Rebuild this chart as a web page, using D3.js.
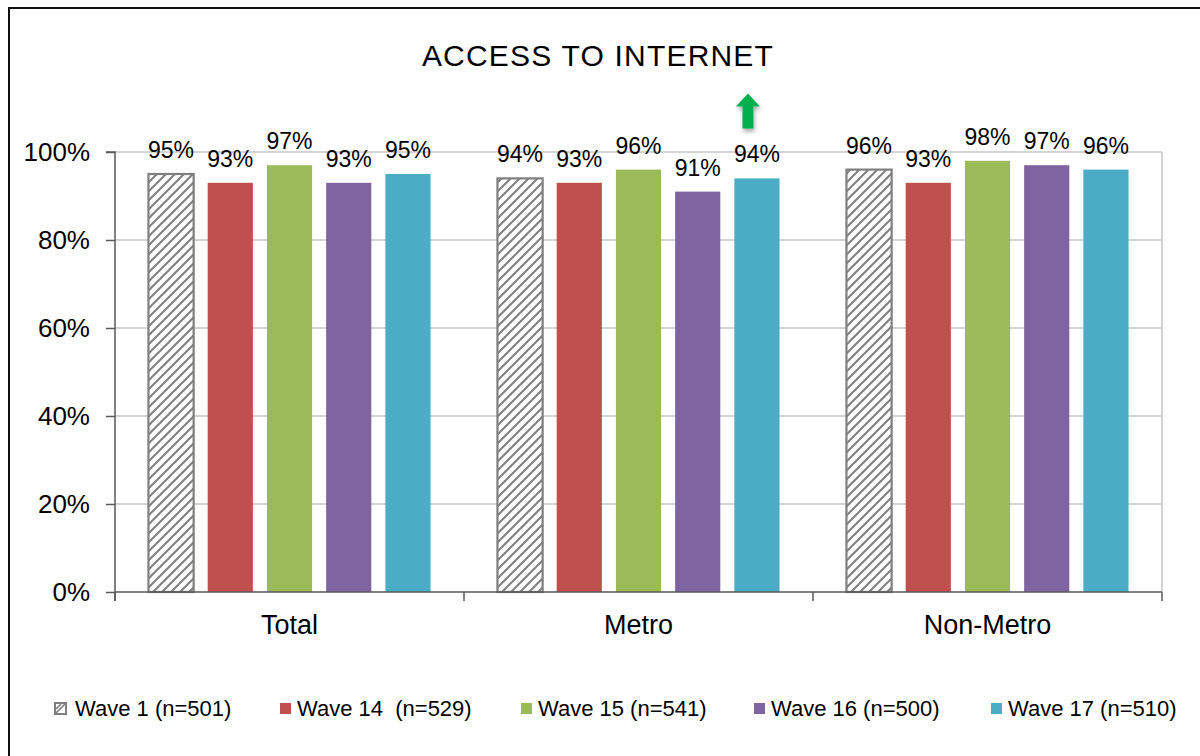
<!DOCTYPE html>
<html>
<head>
<meta charset="utf-8">
<script src="https://cdn.jsdelivr.net/npm/d3@7"></script>
<style>
  html, body { margin: 0; padding: 0; background: #fff; }
  svg { display: block; font-family: Arial, "Liberation Sans", sans-serif; }
  text { white-space: pre; }
</style>
</head>
<body>
<svg id="chart" width="1200" height="756"></svg>
<script>
// Share of respondents with internet access, by region and survey wave
const categories = ["Total", "Metro", "Non-Metro"];
const seriesNames = ["Wave 1 (n=501)", "Wave 14  (n=529)", "Wave 15 (n=541)", "Wave 16 (n=500)", "Wave 17 (n=510)"];
const wave1  = [95, 94, 96];
const wave14 = [93, 93, 93];
const wave15 = [97, 96, 98];
const wave16 = [93, 91, 97];
const wave17 = [95, 94, 96];
const yTicks = [0, 20, 40, 60, 80, 100];
// Significant increase flagged on Wave 17, Metro
const flagged = [{ category: "Metro", series: 4 }];

const seriesValues = [wave1, wave14, wave15, wave16, wave17];
const fills = ["url(#hatch)", "#C0504D", "#9BBB59", "#8064A2", "#4BACC6"];

const svg = d3.select("#chart");
const plot = { left: 115, right: 1162, top: 152, bottom: 592 };

const defs = svg.append("defs");
const pat = defs.append("pattern")
  .attr("id", "hatch")
  .attr("patternUnits", "userSpaceOnUse")
  .attr("width", 9).attr("height", 9);
pat.append("rect").attr("width", 9).attr("height", 9).attr("fill", "#fff");
pat.append("path")
  .attr("d", "M-2,2 L2,-2 M0,9 L9,0 M7,11 L11,7")
  .attr("stroke", "#7f7f7f").attr("stroke-width", 2);

const shadow = defs.append("filter").attr("id", "arrowShadow")
  .attr("x", "-50%").attr("y", "-50%").attr("width", "200%").attr("height", "200%");
shadow.append("feDropShadow")
  .attr("dx", 1).attr("dy", 3).attr("stdDeviation", 2)
  .attr("flood-color", "#000").attr("flood-opacity", 0.35);

// Outer frame
svg.append("rect")
  .attr("x", 9).attr("y", 8).attr("width", 1400).attr("height", 1000)
  .attr("fill", "none").attr("stroke", "#111").attr("stroke-width", 2);

// Title
svg.append("text")
  .attr("x", 598).attr("y", 66)
  .attr("text-anchor", "middle")
  .attr("font-size", 30)
  .attr("letter-spacing", 1.2)
  .attr("fill", "#000")
  .text("ACCESS TO INTERNET");

// Scales
const x0 = d3.scaleBand().domain(categories).range([plot.left, plot.right]);
const x1 = d3.scaleBand().domain(d3.range(seriesNames.length))
  .range([0, x0.bandwidth()]).paddingInner(0.237).paddingOuter(0.565);
const y = d3.scaleLinear().domain([0, 100]).range([plot.bottom, plot.top]);

// Gridlines
svg.append("g")
  .selectAll("line")
  .data(yTicks.filter(d => d > 0))
  .join("line")
  .attr("x1", plot.left).attr("x2", plot.right)
  .attr("y1", d => y(d)).attr("y2", d => y(d))
  .attr("stroke", "#c6c6c6").attr("stroke-width", 1.5);

// Right edge of plot area
svg.append("line")
  .attr("x1", plot.right).attr("x2", plot.right)
  .attr("y1", plot.top).attr("y2", plot.bottom)
  .attr("stroke", "#c6c6c6").attr("stroke-width", 1.5);

// Bars
const groups = svg.append("g").selectAll("g")
  .data(categories)
  .join("g")
  .attr("transform", d => `translate(${x0(d)},0)`);

groups.selectAll("rect")
  .data((c, ci) => seriesValues.map((vals, si) => ({ si, v: vals[ci] })))
  .join("rect")
  .attr("x", d => x1(d.si))
  .attr("width", x1.bandwidth())
  .attr("y", d => y(d.v))
  .attr("height", d => y(0) - y(d.v))
  .attr("fill", d => fills[d.si])
  .attr("stroke", d => d.si === 0 ? "#7f7f7f" : "none")
  .attr("stroke-width", 2.2);

// Value labels
groups.selectAll("text.val")
  .data((c, ci) => seriesValues.map((vals, si) => ({ si, v: vals[ci] })))
  .join("text")
  .attr("class", "val")
  .attr("x", d => x1(d.si) + x1.bandwidth() / 2)
  .attr("y", d => y(d.v) - 16)
  .attr("text-anchor", "middle")
  .attr("font-size", 23)
  .attr("fill", "#000")
  .text(d => d.v + "%");

// Increase arrow above flagged label
flagged.forEach(f => {
  const ci = categories.indexOf(f.category);
  const cx = x0(f.category) + x1(f.series) + x1.bandwidth() / 2 - 9;
  const base = y(seriesValues[f.series][ci]) - 16 - 34;
  const headW = 12, shaftW = 5.5, headH = 13, total = 35;
  const pts = [
    [cx, base - total],
    [cx + headW, base - total + headH],
    [cx + shaftW, base - total + headH],
    [cx + shaftW, base],
    [cx - shaftW, base],
    [cx - shaftW, base - total + headH],
    [cx - headW, base - total + headH]
  ];
  svg.append("polygon")
    .attr("points", pts.map(p => p.join(",")).join(" "))
    .attr("fill", "#00B050")
    .attr("filter", "url(#arrowShadow)");
});

// Y axis
const yAxis = svg.append("g")
  .attr("transform", `translate(${plot.left},0)`)
  .call(d3.axisLeft(y).tickValues(yTicks).tickFormat(d => d + "%").tickSize(9).tickPadding(16));
yAxis.select(".domain").attr("stroke", "#595959").attr("stroke-width", 1.5)
  .attr("d", `M-9,${plot.top}H0V${plot.bottom + 9}`);
yAxis.selectAll(".tick line").attr("stroke", "#595959").attr("stroke-width", 1.5);
yAxis.selectAll(".tick text")
  .attr("font-size", 26).attr("fill", "#000")
  .attr("font-family", "Arial, 'Liberation Sans', sans-serif");

// X axis
const xAxisG = svg.append("g");
xAxisG.append("line")
  .attr("x1", plot.left).attr("x2", plot.right)
  .attr("y1", plot.bottom).attr("y2", plot.bottom)
  .attr("stroke", "#595959").attr("stroke-width", 1.5);
const boundaries = categories.map(c => x0(c)).concat([x0(categories[categories.length - 1]) + x0.bandwidth()]);
xAxisG.selectAll("line.tick")
  .data(boundaries)
  .join("line")
  .attr("class", "tick")
  .attr("x1", d => d).attr("x2", d => d)
  .attr("y1", plot.bottom).attr("y2", plot.bottom + 9)
  .attr("stroke", "#595959").attr("stroke-width", 1.5);
xAxisG.selectAll("text")
  .data(categories)
  .join("text")
  .attr("x", d => x0(d) + x0.bandwidth() / 2)
  .attr("y", 634)
  .attr("text-anchor", "middle")
  .attr("font-size", 27)
  .attr("fill", "#000")
  .text(d => d);

// Legend
const legendX = [55, 280, 521, 754, 991];
const legend = svg.append("g").selectAll("g")
  .data(seriesNames)
  .join("g")
  .attr("transform", (d, i) => `translate(${legendX[i]},703)`);
legend.append("rect")
  .attr("width", 11).attr("height", 11)
  .attr("fill", (d, i) => i === 0 ? "#fff" : fills[i])
  .attr("stroke", (d, i) => i === 0 ? "#7f7f7f" : "none")
  .attr("stroke-width", 2);
legend.filter((d, i) => i === 0).append("path")
  .attr("d", "M1,10 L10,1 M1,6 L6,1")
  .attr("stroke", "#7f7f7f").attr("stroke-width", 1.6);
legend.append("text")
  .attr("x", (d, i) => i === 0 ? 20 : 17)
  .attr("y", 13)
  .attr("font-size", 22)
  .attr("fill", "#000")
  .text(d => d);
</script>
</body>
</html>
